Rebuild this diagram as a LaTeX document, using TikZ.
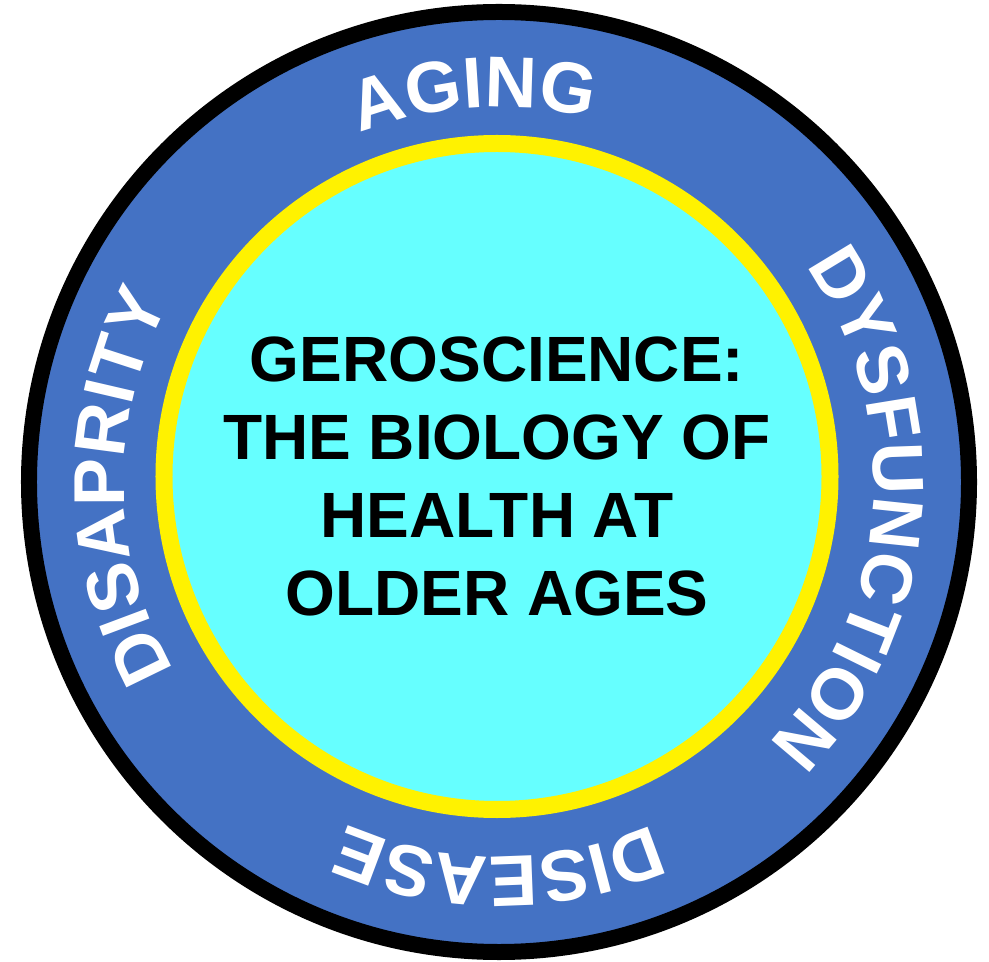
\documentclass[tikz,border=0pt]{standalone}
\usepackage{fontspec}
\setmainfont{Liberation Sans}
\usetikzlibrary{decorations.text}
\definecolor{ringblue}{HTML}{4472C4}
\definecolor{coreblue}{HTML}{66FFFF}

\begin{document}
\begin{tikzpicture}[x=0.5pt,y=0.5pt]
\useasboundingbox (-499,-480) rectangle (490,482);
% Draw the two discs and the words round the ring
   \begin{scope}[ ring/.style={circle,draw=black,fill=ringblue,line width=8pt,inner sep=0pt,minimum size=470pt},
                  core/.style={circle,draw=yellow,fill=coreblue,line width=8.5pt,inner sep=0pt,minimum size=333pt},
                  title/.style={align=center,font=\bfseries\fontsize{32}{39}\selectfont},
                  arctext/.style={decorate,decoration={text along path,text align=center,
                     text={|\color{white}\bfseries\fontsize{36}{36}\selectfont|#1}}} ]
     \node [ring]  (ring)  at (0,0)    {};
     \node [core]  (core)  at (-2,5.5) {};
     \node [title] (title) at (core.center) {GEROSCIENCE:\\THE BIOLOGY OF\\HEALTH AT\\OLDER AGES};
     \path [arctext=AGING]       (ring.center) ++(153.7:187.5pt) arc [start angle=153.7,end angle=33.7,radius=187.5pt];
     \path [arctext=DYSFUNCTION] (ring.center) ++(55.5:187.5pt)  arc [start angle=55.5,end angle=-64.5,radius=187.5pt];
     \path [arctext=DISEASE]     (ring.center) ++(-30:187.5pt)   arc [start angle=-30,end angle=-150,radius=187.5pt];
     \path [arctext=DISAPRITY]   (ring.center) ++(240.7:187.5pt) arc [start angle=240.7,end angle=120.7,radius=187.5pt];
   \end{scope}
\end{tikzpicture}
\end{document}
